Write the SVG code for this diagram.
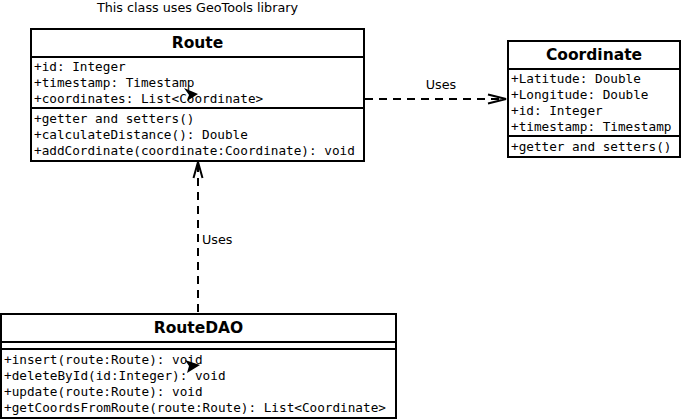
<svg xmlns="http://www.w3.org/2000/svg" width="682" height="420" viewBox="0 0 682 420">
<style>
.box{fill:#fff;stroke:#000;stroke-width:2}
.sep{stroke:#000;stroke-width:2}
.title{font-family:"DejaVu Sans",sans-serif;font-weight:bold;font-size:15.5px;text-anchor:middle;fill:#000}
.mono{font-family:"DejaVu Sans Mono",monospace;font-size:12.7px;fill:#000}
.lbl{font-family:"DejaVu Sans",sans-serif;font-size:12.75px;fill:#000}
.dash{fill:none;stroke:#000;stroke-width:2;stroke-dasharray:8 6}
.head{fill:none;stroke:#000;stroke-width:2}
</style>
<rect width="682" height="420" fill="#fff"/>
<text class="lbl" x="197.5" y="12" text-anchor="middle">This class uses GeoTools library</text>
<g id="connectors">
<line class="dash" x1="365" y1="99" x2="504" y2="99"/>
<polyline class="head" points="488,94.5 506,99 488,103.5"/>
<text class="lbl" x="441" y="89" text-anchor="middle">Uses</text>
<line class="dash" x1="198" y1="312" x2="198" y2="164"/>
<polyline class="head" points="193.5,178 198,162 202.5,178"/>
<text class="lbl" x="202" y="244">Uses</text>
</g>
<g id="Route">
<rect class="box" x="31" y="29" width="333" height="132"/>
<line class="sep" x1="31" y1="57" x2="364" y2="57"/>
<line class="sep" x1="31" y1="108" x2="364" y2="108"/>
<text class="title" x="197.5" y="48">Route</text>
<text class="mono" x="34" y="71">+id: Integer</text>
<text class="mono" x="34" y="87">+timestamp: Timestamp</text>
<text class="mono" x="34" y="103">+coordinates: List&lt;Coordinate&gt;</text>
<text class="mono" x="34" y="123">+getter and setters()</text>
<text class="mono" x="34" y="139">+calculateDistance(): Double</text>
<text class="mono" x="34" y="155">+addCordinate(coordinate:Coordinate): void</text>
</g>
<g id="Coordinate">
<rect class="box" x="508" y="41" width="172" height="116"/>
<line class="sep" x1="508" y1="69" x2="680" y2="69"/>
<line class="sep" x1="508" y1="136" x2="680" y2="136"/>
<text class="title" x="594" y="60">Coordinate</text>
<text class="mono" x="511" y="83">+Latitude: Double</text>
<text class="mono" x="511" y="99">+Longitude: Double</text>
<text class="mono" x="511" y="115">+id: Integer</text>
<text class="mono" x="511" y="131">+timestamp: Timestamp</text>
<text class="mono" x="511" y="151">+getter and setters()</text>
</g>
<g id="RouteDAO">
<rect class="box" x="1" y="314" width="395" height="104"/>
<line class="sep" x1="1" y1="342" x2="396" y2="342"/>
<line class="sep" x1="1" y1="349" x2="396" y2="349"/>
<text class="title" x="198.5" y="333">RouteDAO</text>
<text class="mono" x="4" y="364">+insert(route:Route): void</text>
<text class="mono" x="4" y="380">+deleteById(id:Integer): void</text>
<text class="mono" x="4" y="396">+update(route:Route): void</text>
<text class="mono" x="4" y="412">+getCoordsFromRoute(route:Route): List&lt;Coordinate&gt;</text>
</g>
<polygon points="184,88 198,94 187,101 189,95" fill="#000"/>
<polygon points="185,360 200,365 187,373 189,366" fill="#000"/>
</svg>
